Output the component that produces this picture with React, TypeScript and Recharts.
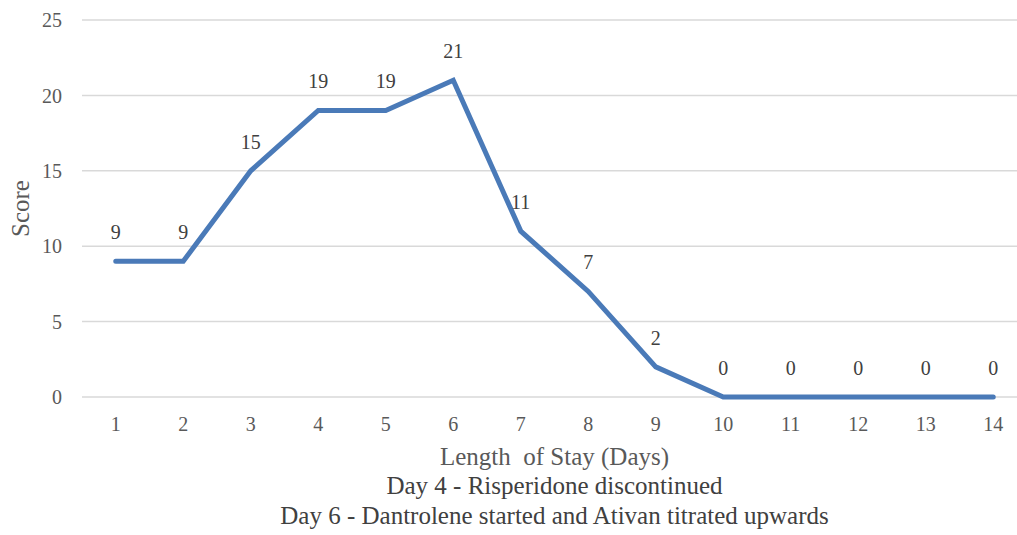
import React from 'react';
import { LineChart, Line, XAxis, YAxis, CartesianGrid, LabelList } from 'recharts';

const days = ['1', '2', '3', '4', '5', '6', '7', '8', '9', '10', '11', '12', '13', '14'];
const scores = [9, 9, 15, 19, 19, 21, 11, 7, 2, 0, 0, 0, 0, 0];
const yTicks = [0, 5, 10, 15, 20, 25];
const xTitleLines = [
  'Length  of Stay (Days)',
  'Day 4 - Risperidone discontinued',
  'Day 6 - Dantrolene started and Ativan titrated upwards',
];

const data = days.map((d, i) => ({ day: d, score: scores[i] }));

const FONT = '"Liberation Serif", "Times New Roman", serif';
const TEXT = '#595959';

const XTitle = (props: any) => {
  const vb = props.viewBox || {};
  const cx = vb.x + vb.width / 2;
  const top = vb.y;
  return (
    <g>
      {xTitleLines.map((t, i) => (
        <text
          key={i}
          x={cx}
          y={top + 68 + i * 29.3}
          textAnchor="middle"
          fill={i === 0 ? TEXT : '#404040'}
          fontSize={25}
          fontFamily={FONT}
          style={{ whiteSpace: 'pre' }}
        >
          {t}
        </text>
      ))}
    </g>
  );
};

export default function App() {
  return (
    <div style={{ position: 'absolute', left: 0, top: 0, width: 1017, height: 535, overflow: 'hidden', background: '#fff' }}>
      <LineChart
        width={1040}
        height={535}
        data={data}
        margin={{ top: 20, right: 13, bottom: 108, left: 0 }}
      >
        <CartesianGrid vertical={false} stroke="#d9d9d9" strokeWidth={1.5} />
        <XAxis
          dataKey="day"
          axisLine={false}
          tickLine={false}
          tickMargin={14}
          height={30}
          padding={{ left: 33.75, right: 33.75 }}
          tick={{ fill: TEXT, fontSize: 20, fontFamily: FONT }}
          label={<XTitle />}
          interval={0}
        />
        <YAxis
          domain={[0, 25]}
          ticks={yTicks}
          width={82}
          axisLine={false}
          tickLine={false}
          tickMargin={14}
          tick={{ fill: TEXT, fontSize: 20, fontFamily: FONT }}
          label={{
            value: 'Score',
            angle: -90,
            position: 'insideLeft',
            offset: 20,
            style: { fill: TEXT, fontSize: 25, fontFamily: FONT, textAnchor: 'middle' },
          }}
        />
        <Line
          type="linear"
          dataKey="score"
          stroke="#4a7ab8"
          strokeWidth={5}
          strokeLinecap="round"
          dot={false}
          isAnimationActive={false}
        >
          <LabelList
            dataKey="score"
            position="top"
            offset={22}
            fill="#404040"
            fontSize={20}
            fontFamily={FONT}
          />
        </Line>
      </LineChart>
    </div>
  );
}
